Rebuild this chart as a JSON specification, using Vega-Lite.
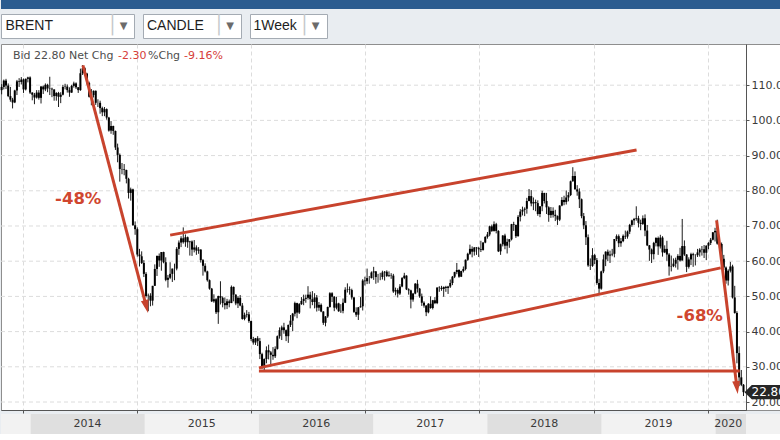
{
"$schema": "https://vega.github.io/schema/vega-lite/v6.json",
"padding": 0,
"background": "#e9edf1",
"spacing": 4,
"config": {"view": {"stroke": null}, "font": "DejaVu Sans", "text": {"font": "DejaVu Sans"}},
"datasets": {
"w": [
{"d":"2013-09-30","o":108.6,"h":110.3,"l":107.4,"c":109.5},
{"d":"2013-10-07","o":109.5,"h":111.6,"l":108.8,"c":111.3},
{"d":"2013-10-14","o":111.3,"h":111.8,"l":108.9,"c":109.9},
{"d":"2013-10-21","o":109.9,"h":110.5,"l":106.6,"c":106.9},
{"d":"2013-10-28","o":106.9,"h":109.5,"l":105.3,"c":105.9},
{"d":"2013-11-04","o":105.9,"h":106.4,"l":103.4,"c":105.1},
{"d":"2013-11-11","o":105.1,"h":108.7,"l":104.9,"c":108.5},
{"d":"2013-11-18","o":108.5,"h":111.5,"l":107.2,"c":111.1},
{"d":"2013-11-25","o":111.1,"h":112.0,"l":109.5,"c":110.9},
{"d":"2013-12-02","o":110.9,"h":112.3,"l":110.2,"c":111.6},
{"d":"2013-12-09","o":111.6,"h":111.9,"l":107.8,"c":108.8},
{"d":"2013-12-16","o":108.8,"h":111.9,"l":108.5,"c":111.8},
{"d":"2013-12-23","o":111.8,"h":112.4,"l":110.8,"c":112.2},
{"d":"2013-12-30","o":112.2,"h":112.5,"l":107.5,"c":107.9},
{"d":"2014-01-06","o":107.9,"h":108.0,"l":105.7,"c":107.3},
{"d":"2014-01-13","o":107.3,"h":107.8,"l":104.6,"c":106.5},
{"d":"2014-01-20","o":106.5,"h":108.6,"l":106.2,"c":107.9},
{"d":"2014-01-27","o":107.9,"h":108.6,"l":105.9,"c":106.4},
{"d":"2014-02-03","o":106.4,"h":109.8,"l":104.8,"c":109.6},
{"d":"2014-02-10","o":109.6,"h":109.9,"l":107.5,"c":108.8},
{"d":"2014-02-17","o":108.8,"h":110.5,"l":108.3,"c":110.1},
{"d":"2014-02-24","o":110.1,"h":110.4,"l":108.0,"c":109.1},
{"d":"2014-03-03","o":109.1,"h":112.4,"l":107.2,"c":109.0},
{"d":"2014-03-10","o":109.0,"h":109.3,"l":106.6,"c":108.8},
{"d":"2014-03-17","o":108.8,"h":108.8,"l":105.6,"c":106.9},
{"d":"2014-03-24","o":106.9,"h":108.0,"l":105.6,"c":107.8},
{"d":"2014-03-31","o":107.8,"h":108.1,"l":103.8,"c":106.7},
{"d":"2014-04-07","o":106.7,"h":108.0,"l":104.9,"c":107.3},
{"d":"2014-04-14","o":107.3,"h":110.1,"l":107.1,"c":109.5},
{"d":"2014-04-21","o":109.5,"h":110.4,"l":108.8,"c":109.6},
{"d":"2014-04-28","o":109.6,"h":110.2,"l":107.9,"c":108.6},
{"d":"2014-05-05","o":108.6,"h":109.4,"l":106.7,"c":107.9},
{"d":"2014-05-12","o":107.9,"h":110.1,"l":107.8,"c":109.8},
{"d":"2014-05-19","o":109.8,"h":111.0,"l":109.3,"c":110.5},
{"d":"2014-05-26","o":110.5,"h":110.8,"l":108.9,"c":109.4},
{"d":"2014-06-02","o":109.4,"h":109.5,"l":107.8,"c":108.6},
{"d":"2014-06-09","o":108.6,"h":114.7,"l":108.4,"c":113.4},
{"d":"2014-06-16","o":113.4,"h":115.7,"l":112.9,"c":114.8},
{"d":"2014-06-23","o":114.8,"h":115.1,"l":112.6,"c":113.3},
{"d":"2014-06-30","o":113.3,"h":113.5,"l":110.2,"c":110.6},
{"d":"2014-07-07","o":110.6,"h":111.0,"l":106.5,"c":106.7},
{"d":"2014-07-14","o":106.7,"h":108.9,"l":104.3,"c":107.2},
{"d":"2014-07-21","o":107.2,"h":108.5,"l":106.5,"c":108.4},
{"d":"2014-07-28","o":108.4,"h":108.5,"l":104.4,"c":105.0},
{"d":"2014-08-04","o":105.0,"h":106.0,"l":103.8,"c":105.0},
{"d":"2014-08-11","o":105.0,"h":105.6,"l":101.9,"c":103.5},
{"d":"2014-08-18","o":103.5,"h":103.9,"l":101.2,"c":102.3},
{"d":"2014-08-25","o":102.3,"h":103.8,"l":101.2,"c":103.2},
{"d":"2014-09-01","o":103.2,"h":103.4,"l":100.2,"c":100.8},
{"d":"2014-09-08","o":100.8,"h":101.0,"l":96.8,"c":97.1},
{"d":"2014-09-15","o":97.1,"h":99.8,"l":96.2,"c":98.4},
{"d":"2014-09-22","o":98.4,"h":98.5,"l":95.9,"c":97.0},
{"d":"2014-09-29","o":97.0,"h":97.1,"l":91.6,"c":92.3},
{"d":"2014-10-06","o":92.3,"h":93.4,"l":88.1,"c":90.2},
{"d":"2014-10-13","o":90.2,"h":90.6,"l":82.6,"c":86.2},
{"d":"2014-10-20","o":86.2,"h":87.9,"l":84.7,"c":86.1},
{"d":"2014-10-27","o":86.1,"h":87.6,"l":84.4,"c":85.9},
{"d":"2014-11-03","o":85.9,"h":86.0,"l":82.1,"c":83.4},
{"d":"2014-11-10","o":83.4,"h":83.7,"l":77.8,"c":79.4},
{"d":"2014-11-17","o":79.4,"h":80.9,"l":77.2,"c":80.4},
{"d":"2014-11-24","o":80.4,"h":80.6,"l":70.1,"c":70.2},
{"d":"2014-12-01","o":70.2,"h":71.3,"l":67.5,"c":69.1},
{"d":"2014-12-08","o":69.1,"h":69.6,"l":61.3,"c":61.9},
{"d":"2014-12-15","o":61.9,"h":63.5,"l":58.5,"c":61.4},
{"d":"2014-12-22","o":61.4,"h":62.8,"l":59.2,"c":59.5},
{"d":"2014-12-29","o":59.5,"h":60.3,"l":55.5,"c":56.4},
{"d":"2015-01-05","o":56.4,"h":56.9,"l":49.7,"c":50.1},
{"d":"2015-01-12","o":50.1,"h":50.8,"l":45.8,"c":50.2},
{"d":"2015-01-19","o":50.2,"h":50.9,"l":47.2,"c":48.8},
{"d":"2015-01-26","o":48.8,"h":53.0,"l":47.4,"c":53.0},
{"d":"2015-02-02","o":53.0,"h":59.1,"l":53.0,"c":57.8},
{"d":"2015-02-09","o":57.8,"h":61.6,"l":55.8,"c":61.5},
{"d":"2015-02-16","o":61.5,"h":62.2,"l":58.4,"c":60.2},
{"d":"2015-02-23","o":60.2,"h":62.6,"l":57.3,"c":62.6},
{"d":"2015-03-02","o":62.6,"h":62.7,"l":59.4,"c":59.7},
{"d":"2015-03-09","o":59.7,"h":61.1,"l":54.3,"c":54.7},
{"d":"2015-03-16","o":54.7,"h":56.1,"l":52.5,"c":55.3},
{"d":"2015-03-23","o":55.3,"h":59.7,"l":54.9,"c":56.4},
{"d":"2015-03-30","o":56.4,"h":57.9,"l":54.1,"c":57.9},
{"d":"2015-04-06","o":57.9,"h":59.3,"l":54.6,"c":57.9},
{"d":"2015-04-13","o":57.9,"h":64.0,"l":57.4,"c":63.5},
{"d":"2015-04-20","o":63.5,"h":65.9,"l":61.8,"c":65.3},
{"d":"2015-04-27","o":65.3,"h":67.1,"l":64.0,"c":66.5},
{"d":"2015-05-04","o":66.5,"h":69.6,"l":65.0,"c":65.4},
{"d":"2015-05-11","o":65.4,"h":67.6,"l":64.1,"c":66.8},
{"d":"2015-05-18","o":66.8,"h":67.0,"l":63.8,"c":65.4},
{"d":"2015-05-25","o":65.4,"h":65.8,"l":61.6,"c":65.6},
{"d":"2015-06-01","o":65.6,"h":65.9,"l":61.5,"c":63.3},
{"d":"2015-06-08","o":63.3,"h":66.0,"l":62.5,"c":63.9},
{"d":"2015-06-15","o":63.9,"h":64.5,"l":61.8,"c":63.0},
{"d":"2015-06-22","o":63.0,"h":64.0,"l":62.1,"c":63.3},
{"d":"2015-06-29","o":63.3,"h":63.4,"l":59.6,"c":60.3},
{"d":"2015-07-06","o":60.3,"h":60.6,"l":55.9,"c":58.7},
{"d":"2015-07-13","o":58.7,"h":59.4,"l":56.8,"c":57.1},
{"d":"2015-07-20","o":57.1,"h":57.3,"l":54.2,"c":54.6},
{"d":"2015-07-27","o":54.6,"h":54.8,"l":51.9,"c":52.2},
{"d":"2015-08-03","o":52.2,"h":52.4,"l":48.4,"c":48.6},
{"d":"2015-08-10","o":48.6,"h":50.6,"l":48.2,"c":49.2},
{"d":"2015-08-17","o":49.2,"h":49.5,"l":45.0,"c":45.5},
{"d":"2015-08-24","o":45.5,"h":50.2,"l":42.2,"c":50.1},
{"d":"2015-08-31","o":50.1,"h":54.3,"l":47.7,"c":49.6},
{"d":"2015-09-07","o":49.6,"h":50.0,"l":46.9,"c":48.1},
{"d":"2015-09-14","o":48.1,"h":49.7,"l":46.3,"c":47.5},
{"d":"2015-09-21","o":47.5,"h":49.3,"l":46.4,"c":48.6},
{"d":"2015-09-28","o":48.6,"h":49.1,"l":46.9,"c":48.1},
{"d":"2015-10-05","o":48.1,"h":53.1,"l":48.1,"c":52.7},
{"d":"2015-10-12","o":52.7,"h":52.8,"l":48.6,"c":50.5},
{"d":"2015-10-19","o":50.5,"h":50.6,"l":47.5,"c":48.0},
{"d":"2015-10-26","o":48.0,"h":50.1,"l":46.7,"c":49.6},
{"d":"2015-11-02","o":49.6,"h":50.4,"l":47.2,"c":47.4},
{"d":"2015-11-09","o":47.4,"h":48.1,"l":43.4,"c":43.6},
{"d":"2015-11-16","o":43.6,"h":45.4,"l":43.2,"c":44.7},
{"d":"2015-11-23","o":44.7,"h":46.1,"l":44.0,"c":44.9},
{"d":"2015-11-30","o":44.9,"h":45.6,"l":42.5,"c":43.0},
{"d":"2015-12-07","o":43.0,"h":43.1,"l":37.3,"c":37.9},
{"d":"2015-12-14","o":37.9,"h":38.5,"l":36.3,"c":36.9},
{"d":"2015-12-21","o":36.9,"h":38.2,"l":36.2,"c":38.1},
{"d":"2015-12-28","o":38.1,"h":38.7,"l":35.9,"c":37.3},
{"d":"2016-01-04","o":37.3,"h":38.2,"l":32.2,"c":33.6},
{"d":"2016-01-11","o":33.6,"h":34.0,"l":29.4,"c":29.9},
{"d":"2016-01-18","o":29.9,"h":32.4,"l":28.6,"c":32.2},
{"d":"2016-01-25","o":32.2,"h":35.8,"l":31.0,"c":34.7},
{"d":"2016-02-01","o":34.7,"h":36.3,"l":32.1,"c":34.1},
{"d":"2016-02-08","o":34.1,"h":34.5,"l":30.1,"c":33.4},
{"d":"2016-02-15","o":33.4,"h":35.6,"l":32.0,"c":33.0},
{"d":"2016-02-22","o":33.0,"h":35.8,"l":32.5,"c":35.1},
{"d":"2016-02-29","o":35.1,"h":38.9,"l":34.9,"c":38.7},
{"d":"2016-03-07","o":38.7,"h":41.2,"l":38.0,"c":40.4},
{"d":"2016-03-14","o":40.4,"h":41.7,"l":37.6,"c":41.2},
{"d":"2016-03-21","o":41.2,"h":42.5,"l":39.4,"c":40.4},
{"d":"2016-03-28","o":40.4,"h":40.6,"l":37.3,"c":38.7},
{"d":"2016-04-04","o":38.7,"h":42.0,"l":36.8,"c":41.9},
{"d":"2016-04-11","o":41.9,"h":44.7,"l":41.3,"c":43.1},
{"d":"2016-04-18","o":43.1,"h":45.3,"l":40.1,"c":45.1},
{"d":"2016-04-25","o":45.1,"h":48.5,"l":44.3,"c":48.1},
{"d":"2016-05-02","o":48.1,"h":48.2,"l":43.8,"c":45.4},
{"d":"2016-05-09","o":45.4,"h":48.1,"l":45.0,"c":47.8},
{"d":"2016-05-16","o":47.8,"h":49.8,"l":47.6,"c":48.7},
{"d":"2016-05-23","o":48.7,"h":50.5,"l":47.5,"c":49.3},
{"d":"2016-05-30","o":49.3,"h":50.5,"l":48.2,"c":49.6},
{"d":"2016-06-06","o":49.6,"h":52.9,"l":49.1,"c":50.5},
{"d":"2016-06-13","o":50.5,"h":51.3,"l":46.6,"c":49.2},
{"d":"2016-06-20","o":49.2,"h":51.5,"l":47.5,"c":48.4},
{"d":"2016-06-27","o":48.4,"h":50.9,"l":46.6,"c":49.7},
{"d":"2016-07-04","o":49.7,"h":50.4,"l":45.7,"c":46.8},
{"d":"2016-07-11","o":46.8,"h":48.4,"l":45.9,"c":47.6},
{"d":"2016-07-18","o":47.6,"h":48.0,"l":45.5,"c":45.7},
{"d":"2016-07-25","o":45.7,"h":45.8,"l":41.9,"c":42.5},
{"d":"2016-08-01","o":42.5,"h":44.4,"l":41.5,"c":44.3},
{"d":"2016-08-08","o":44.3,"h":47.1,"l":43.9,"c":47.0},
{"d":"2016-08-15","o":47.0,"h":51.2,"l":46.8,"c":50.9},
{"d":"2016-08-22","o":50.9,"h":51.2,"l":48.4,"c":49.9},
{"d":"2016-08-29","o":49.9,"h":50.1,"l":45.8,"c":46.8},
{"d":"2016-09-05","o":46.8,"h":49.9,"l":46.3,"c":48.0},
{"d":"2016-09-12","o":48.0,"h":48.2,"l":45.6,"c":45.8},
{"d":"2016-09-19","o":45.8,"h":47.8,"l":45.3,"c":45.9},
{"d":"2016-09-26","o":45.9,"h":49.4,"l":45.2,"c":48.2},
{"d":"2016-10-03","o":48.2,"h":52.6,"l":48.1,"c":51.9},
{"d":"2016-10-10","o":51.9,"h":53.7,"l":51.1,"c":52.0},
{"d":"2016-10-17","o":52.0,"h":52.8,"l":50.5,"c":51.8},
{"d":"2016-10-24","o":51.8,"h":52.2,"l":49.1,"c":49.7},
{"d":"2016-10-31","o":49.7,"h":49.8,"l":45.3,"c":45.6},
{"d":"2016-11-07","o":45.6,"h":46.9,"l":44.2,"c":44.8},
{"d":"2016-11-14","o":44.8,"h":47.0,"l":43.3,"c":46.9},
{"d":"2016-11-21","o":46.9,"h":49.8,"l":46.8,"c":47.2},
{"d":"2016-11-28","o":47.2,"h":54.9,"l":46.0,"c":54.5},
{"d":"2016-12-05","o":54.5,"h":55.6,"l":53.1,"c":54.3},
{"d":"2016-12-12","o":54.3,"h":57.9,"l":53.5,"c":55.2},
{"d":"2016-12-19","o":55.2,"h":55.8,"l":53.6,"c":55.2},
{"d":"2016-12-26","o":55.2,"h":57.1,"l":55.1,"c":56.8},
{"d":"2017-01-02","o":56.8,"h":58.4,"l":54.7,"c":57.1},
{"d":"2017-01-09","o":57.1,"h":57.2,"l":53.6,"c":55.5},
{"d":"2017-01-16","o":55.5,"h":56.4,"l":53.9,"c":55.5},
{"d":"2017-01-23","o":55.5,"h":56.7,"l":54.6,"c":55.5},
{"d":"2017-01-30","o":55.5,"h":57.3,"l":54.8,"c":56.8},
{"d":"2017-02-06","o":56.8,"h":57.2,"l":54.5,"c":57.0},
{"d":"2017-02-13","o":57.0,"h":57.4,"l":55.5,"c":55.8},
{"d":"2017-02-20","o":55.8,"h":57.1,"l":55.5,"c":56.0},
{"d":"2017-02-27","o":56.0,"h":56.6,"l":55.0,"c":55.9},
{"d":"2017-03-06","o":55.9,"h":56.4,"l":51.0,"c":51.4},
{"d":"2017-03-13","o":51.4,"h":52.5,"l":50.3,"c":51.8},
{"d":"2017-03-20","o":51.8,"h":52.3,"l":49.7,"c":50.8},
{"d":"2017-03-27","o":50.8,"h":53.5,"l":50.4,"c":52.8},
{"d":"2017-04-03","o":52.8,"h":55.5,"l":52.6,"c":55.2},
{"d":"2017-04-10","o":55.2,"h":56.7,"l":54.9,"c":55.9},
{"d":"2017-04-17","o":55.9,"h":56.0,"l":51.8,"c":52.0},
{"d":"2017-04-24","o":52.0,"h":52.3,"l":50.5,"c":51.7},
{"d":"2017-05-01","o":51.7,"h":51.9,"l":46.6,"c":49.1},
{"d":"2017-05-08","o":49.1,"h":51.0,"l":48.5,"c":50.8},
{"d":"2017-05-15","o":50.8,"h":53.8,"l":50.6,"c":53.6},
{"d":"2017-05-22","o":53.6,"h":54.7,"l":51.1,"c":52.2},
{"d":"2017-05-29","o":52.2,"h":52.4,"l":49.6,"c":50.0},
{"d":"2017-06-05","o":50.0,"h":50.8,"l":47.3,"c":48.2},
{"d":"2017-06-12","o":48.2,"h":48.6,"l":46.8,"c":47.4},
{"d":"2017-06-19","o":47.4,"h":47.5,"l":44.4,"c":45.5},
{"d":"2017-06-26","o":45.5,"h":48.1,"l":45.2,"c":47.9},
{"d":"2017-07-03","o":47.9,"h":50.0,"l":46.5,"c":46.7},
{"d":"2017-07-10","o":46.7,"h":49.0,"l":46.3,"c":48.9},
{"d":"2017-07-17","o":48.9,"h":49.8,"l":47.8,"c":48.1},
{"d":"2017-07-24","o":48.1,"h":52.6,"l":47.8,"c":52.5},
{"d":"2017-07-31","o":52.5,"h":52.9,"l":51.3,"c":52.4},
{"d":"2017-08-07","o":52.4,"h":53.0,"l":51.6,"c":52.1},
{"d":"2017-08-14","o":52.1,"h":52.8,"l":49.9,"c":52.7},
{"d":"2017-08-21","o":52.7,"h":53.0,"l":51.3,"c":52.4},
{"d":"2017-08-28","o":52.4,"h":53.0,"l":50.7,"c":52.8},
{"d":"2017-09-04","o":52.8,"h":54.8,"l":52.4,"c":53.8},
{"d":"2017-09-11","o":53.8,"h":55.8,"l":53.2,"c":55.6},
{"d":"2017-09-18","o":55.6,"h":57.0,"l":55.2,"c":56.9},
{"d":"2017-09-25","o":56.9,"h":59.5,"l":56.3,"c":57.5},
{"d":"2017-10-02","o":57.5,"h":57.7,"l":55.3,"c":55.6},
{"d":"2017-10-09","o":55.6,"h":57.3,"l":55.5,"c":57.2},
{"d":"2017-10-16","o":57.2,"h":58.5,"l":56.8,"c":57.8},
{"d":"2017-10-23","o":57.8,"h":60.5,"l":57.4,"c":60.4},
{"d":"2017-10-30","o":60.4,"h":62.4,"l":60.1,"c":62.1},
{"d":"2017-11-06","o":62.1,"h":64.7,"l":61.8,"c":63.5},
{"d":"2017-11-13","o":63.5,"h":64.2,"l":61.1,"c":62.7},
{"d":"2017-11-20","o":62.7,"h":64.0,"l":61.6,"c":63.9},
{"d":"2017-11-27","o":63.9,"h":64.0,"l":61.8,"c":63.7},
{"d":"2017-12-04","o":63.7,"h":64.1,"l":61.2,"c":63.4},
{"d":"2017-12-11","o":63.4,"h":65.8,"l":62.6,"c":63.2},
{"d":"2017-12-18","o":63.2,"h":65.4,"l":63.0,"c":65.3},
{"d":"2017-12-25","o":65.3,"h":67.1,"l":65.1,"c":66.9},
{"d":"2018-01-01","o":66.9,"h":68.3,"l":66.4,"c":67.6},
{"d":"2018-01-08","o":67.6,"h":70.1,"l":67.1,"c":69.9},
{"d":"2018-01-15","o":69.9,"h":70.4,"l":68.3,"c":68.6},
{"d":"2018-01-22","o":68.6,"h":71.3,"l":68.4,"c":70.5},
{"d":"2018-01-29","o":70.5,"h":70.9,"l":67.9,"c":68.6},
{"d":"2018-02-05","o":68.6,"h":68.8,"l":62.6,"c":62.8},
{"d":"2018-02-12","o":62.8,"h":65.0,"l":61.8,"c":64.8},
{"d":"2018-02-19","o":64.8,"h":67.4,"l":64.2,"c":67.3},
{"d":"2018-02-26","o":67.3,"h":67.8,"l":63.4,"c":64.4},
{"d":"2018-03-05","o":64.4,"h":66.4,"l":62.2,"c":65.5},
{"d":"2018-03-12","o":65.5,"h":66.3,"l":63.8,"c":66.2},
{"d":"2018-03-19","o":66.2,"h":70.6,"l":65.9,"c":70.5},
{"d":"2018-03-26","o":70.5,"h":71.2,"l":68.6,"c":70.3},
{"d":"2018-04-02","o":70.3,"h":70.4,"l":66.6,"c":67.1},
{"d":"2018-04-09","o":67.1,"h":73.1,"l":67.0,"c":72.6},
{"d":"2018-04-16","o":72.6,"h":74.8,"l":71.3,"c":74.1},
{"d":"2018-04-23","o":74.1,"h":75.5,"l":73.0,"c":74.6},
{"d":"2018-04-30","o":74.6,"h":75.3,"l":72.8,"c":74.9},
{"d":"2018-05-07","o":74.9,"h":78.0,"l":73.5,"c":77.1},
{"d":"2018-05-14","o":77.1,"h":80.5,"l":77.0,"c":78.5},
{"d":"2018-05-21","o":78.5,"h":80.2,"l":75.6,"c":76.4},
{"d":"2018-05-28","o":76.4,"h":78.1,"l":74.5,"c":76.8},
{"d":"2018-06-04","o":76.8,"h":77.5,"l":74.2,"c":76.5},
{"d":"2018-06-11","o":76.5,"h":77.3,"l":72.9,"c":73.4},
{"d":"2018-06-18","o":73.4,"h":75.6,"l":72.5,"c":75.6},
{"d":"2018-06-25","o":75.6,"h":80.0,"l":74.2,"c":79.4},
{"d":"2018-07-02","o":79.4,"h":79.4,"l":76.4,"c":77.1},
{"d":"2018-07-09","o":77.1,"h":79.4,"l":73.4,"c":75.3},
{"d":"2018-07-16","o":75.3,"h":75.6,"l":71.2,"c":73.1},
{"d":"2018-07-23","o":73.1,"h":75.4,"l":72.3,"c":74.3},
{"d":"2018-07-30","o":74.3,"h":75.3,"l":72.4,"c":73.2},
{"d":"2018-08-06","o":73.2,"h":74.6,"l":71.4,"c":72.8},
{"d":"2018-08-13","o":72.8,"h":73.0,"l":70.3,"c":71.8},
{"d":"2018-08-20","o":71.8,"h":75.9,"l":71.4,"c":75.8},
{"d":"2018-08-27","o":75.8,"h":78.2,"l":75.6,"c":77.4},
{"d":"2018-09-03","o":77.4,"h":78.6,"l":75.9,"c":76.8},
{"d":"2018-09-10","o":76.8,"h":80.1,"l":76.1,"c":78.1},
{"d":"2018-09-17","o":78.1,"h":79.6,"l":77.0,"c":78.8},
{"d":"2018-09-24","o":78.8,"h":82.9,"l":78.5,"c":82.7},
{"d":"2018-10-01","o":82.7,"h":86.7,"l":82.6,"c":84.2},
{"d":"2018-10-08","o":84.2,"h":85.5,"l":80.4,"c":80.4},
{"d":"2018-10-15","o":80.4,"h":81.6,"l":78.6,"c":79.8},
{"d":"2018-10-22","o":79.8,"h":80.7,"l":75.1,"c":77.6},
{"d":"2018-10-29","o":77.6,"h":77.8,"l":72.2,"c":72.8},
{"d":"2018-11-05","o":72.8,"h":73.7,"l":69.1,"c":70.2},
{"d":"2018-11-12","o":70.2,"h":71.4,"l":64.6,"c":66.8},
{"d":"2018-11-19","o":66.8,"h":67.6,"l":58.4,"c":58.8},
{"d":"2018-11-26","o":58.8,"h":60.8,"l":57.5,"c":58.7},
{"d":"2018-12-03","o":58.7,"h":63.7,"l":58.4,"c":61.7},
{"d":"2018-12-10","o":61.7,"h":62.1,"l":59.2,"c":60.3},
{"d":"2018-12-17","o":60.3,"h":60.9,"l":53.3,"c":53.8},
{"d":"2018-12-24","o":53.8,"h":55.0,"l":50.4,"c":52.2},
{"d":"2018-12-31","o":52.2,"h":57.3,"l":51.9,"c":57.1},
{"d":"2019-01-07","o":57.1,"h":61.9,"l":56.6,"c":60.5},
{"d":"2019-01-14","o":60.5,"h":62.8,"l":58.6,"c":62.7},
{"d":"2019-01-21","o":62.7,"h":63.3,"l":60.0,"c":61.6},
{"d":"2019-01-28","o":61.6,"h":63.0,"l":59.5,"c":61.9},
{"d":"2019-02-04","o":61.9,"h":63.5,"l":61.4,"c":62.1},
{"d":"2019-02-11","o":62.1,"h":66.3,"l":61.1,"c":66.3},
{"d":"2019-02-18","o":66.3,"h":67.6,"l":65.7,"c":67.1},
{"d":"2019-02-25","o":67.1,"h":67.6,"l":64.0,"c":65.1},
{"d":"2019-03-04","o":65.1,"h":66.6,"l":64.1,"c":65.7},
{"d":"2019-03-11","o":65.7,"h":67.6,"l":65.4,"c":67.2},
{"d":"2019-03-18","o":67.2,"h":68.7,"l":66.3,"c":67.0},
{"d":"2019-03-25","o":67.0,"h":68.7,"l":66.4,"c":68.4},
{"d":"2019-04-01","o":68.4,"h":70.6,"l":67.7,"c":70.3},
{"d":"2019-04-08","o":70.3,"h":71.8,"l":69.8,"c":71.6},
{"d":"2019-04-15","o":71.6,"h":72.3,"l":70.3,"c":72.0},
{"d":"2019-04-22","o":72.0,"h":75.6,"l":71.5,"c":72.2},
{"d":"2019-04-29","o":72.2,"h":72.9,"l":69.6,"c":70.9},
{"d":"2019-05-06","o":70.9,"h":71.8,"l":68.8,"c":70.6},
{"d":"2019-05-13","o":70.6,"h":73.0,"l":70.3,"c":72.2},
{"d":"2019-05-20","o":72.2,"h":73.3,"l":67.1,"c":68.7},
{"d":"2019-05-27","o":68.7,"h":70.3,"l":64.3,"c":64.5},
{"d":"2019-06-03","o":64.5,"h":64.6,"l":60.1,"c":63.3},
{"d":"2019-06-10","o":63.3,"h":63.6,"l":59.5,"c":62.0},
{"d":"2019-06-17","o":62.0,"h":65.5,"l":60.5,"c":65.2},
{"d":"2019-06-24","o":65.2,"h":66.8,"l":64.2,"c":66.6},
{"d":"2019-07-01","o":66.6,"h":67.0,"l":61.8,"c":64.2},
{"d":"2019-07-08","o":64.2,"h":67.5,"l":63.6,"c":66.7},
{"d":"2019-07-15","o":66.7,"h":67.1,"l":61.3,"c":62.5},
{"d":"2019-07-22","o":62.5,"h":64.5,"l":62.3,"c":63.5},
{"d":"2019-07-29","o":63.5,"h":65.8,"l":60.1,"c":61.9},
{"d":"2019-08-05","o":61.9,"h":62.3,"l":55.9,"c":58.5},
{"d":"2019-08-12","o":58.5,"h":61.6,"l":57.1,"c":58.6},
{"d":"2019-08-19","o":58.6,"h":60.8,"l":58.3,"c":59.3},
{"d":"2019-08-26","o":59.3,"h":61.0,"l":58.2,"c":60.4},
{"d":"2019-09-02","o":60.4,"h":62.0,"l":57.6,"c":61.5},
{"d":"2019-09-09","o":61.5,"h":63.8,"l":59.9,"c":60.2},
{"d":"2019-09-16","o":60.2,"h":72.0,"l":60.2,"c":64.3},
{"d":"2019-09-23","o":64.3,"h":65.9,"l":61.5,"c":61.9},
{"d":"2019-09-30","o":61.9,"h":62.0,"l":56.9,"c":58.4},
{"d":"2019-10-07","o":58.4,"h":61.1,"l":57.9,"c":60.5},
{"d":"2019-10-14","o":60.5,"h":62.4,"l":58.9,"c":62.0},
{"d":"2019-10-21","o":62.0,"h":62.4,"l":58.4,"c":61.7},
{"d":"2019-10-28","o":61.7,"h":62.0,"l":58.8,"c":61.7},
{"d":"2019-11-04","o":61.7,"h":63.5,"l":61.2,"c":62.5},
{"d":"2019-11-11","o":62.5,"h":63.7,"l":61.3,"c":63.3},
{"d":"2019-11-18","o":63.3,"h":64.3,"l":61.6,"c":63.4},
{"d":"2019-11-25","o":63.4,"h":64.6,"l":60.9,"c":62.4},
{"d":"2019-12-02","o":62.4,"h":64.5,"l":60.3,"c":64.4},
{"d":"2019-12-09","o":64.4,"h":65.4,"l":63.4,"c":65.2},
{"d":"2019-12-16","o":65.2,"h":66.6,"l":64.6,"c":66.1},
{"d":"2019-12-23","o":66.1,"h":68.3,"l":65.9,"c":68.2},
{"d":"2019-12-30","o":68.2,"h":69.5,"l":65.6,"c":68.6},
{"d":"2020-01-06","o":68.6,"h":71.8,"l":64.7,"c":65.0},
{"d":"2020-01-13","o":65.0,"h":65.7,"l":63.8,"c":64.9},
{"d":"2020-01-20","o":64.9,"h":65.3,"l":60.1,"c":60.7},
{"d":"2020-01-27","o":60.7,"h":61.8,"l":57.5,"c":58.2},
{"d":"2020-02-03","o":58.2,"h":58.5,"l":53.6,"c":54.5},
{"d":"2020-02-10","o":54.5,"h":57.7,"l":53.1,"c":57.3},
{"d":"2020-02-17","o":57.3,"h":59.8,"l":56.8,"c":58.5},
{"d":"2020-02-24","o":58.5,"h":59.0,"l":49.4,"c":49.7},
{"d":"2020-03-02","o":49.7,"h":53.0,"l":45.1,"c":45.3},
{"d":"2020-03-09","o":45.3,"h":45.8,"l":31.0,"c":33.9},
{"d":"2020-03-16","o":33.9,"h":35.8,"l":24.5,"c":27.0},
{"d":"2020-03-23","o":27.0,"h":29.1,"l":24.5,"c":24.9},
{"d":"2020-03-30","o":24.9,"h":25.1,"l":21.7,"c":22.8}
]
},
"vconcat": [
{
"width": 780, "height": 9,
"view": {"fill": "#2b5c8f", "stroke": null},
"data": {"values": [{}]},
"mark": {"type": "text", "text": " ", "fontSize": 1}
},
{
"spacing": 7,
"hconcat": [
{"width": 133, "height": 24, "view": {"fill": "#ffffff", "stroke": "#a4abb3"},
 "data": {"values": [{"t": "BRENT"}]},
 "layer": [
  {"mark": {"type": "text", "align": "left", "baseline": "middle", "dx": -62, "fontSize": 14, "font": "Liberation Sans", "color": "#1e1e1e"}, "encoding": {"text": {"field": "t"}}},
  {"mark": {"type": "text", "text": "│", "align": "center", "baseline": "middle", "dx": 45, "fontSize": 18, "color": "#c4c8cc"}},
  {"mark": {"type": "text", "text": "▼", "align": "center", "baseline": "middle", "dx": 56, "fontSize": 10, "color": "#6b6b6b"}}
 ]},
{"width": 98, "height": 24, "view": {"fill": "#ffffff", "stroke": "#a4abb3"},
 "data": {"values": [{"t": "CANDLE"}]},
 "layer": [
  {"mark": {"type": "text", "align": "left", "baseline": "middle", "dx": -45, "fontSize": 14, "font": "Liberation Sans", "color": "#1e1e1e"}, "encoding": {"text": {"field": "t"}}},
  {"mark": {"type": "text", "text": "│", "align": "center", "baseline": "middle", "dx": 27, "fontSize": 18, "color": "#c4c8cc"}},
  {"mark": {"type": "text", "text": "▼", "align": "center", "baseline": "middle", "dx": 38, "fontSize": 10, "color": "#6b6b6b"}}
 ]},
{"width": 77, "height": 24, "view": {"fill": "#ffffff", "stroke": "#a4abb3"},
 "data": {"values": [{"t": "1Week"}]},
 "layer": [
  {"mark": {"type": "text", "align": "left", "baseline": "middle", "dx": -35, "fontSize": 14, "font": "Liberation Sans", "color": "#1e1e1e"}, "encoding": {"text": {"field": "t"}}},
  {"mark": {"type": "text", "text": "│", "align": "center", "baseline": "middle", "dx": 16, "fontSize": 18, "color": "#c4c8cc"}},
  {"mark": {"type": "text", "text": "▼", "align": "center", "baseline": "middle", "dx": 27, "fontSize": 10, "color": "#6b6b6b"}}
 ]}
]
},
{
"spacing": 0,
"vconcat": [
{
"width": 780, "height": 366,
"view": {"fill": "#ffffff", "stroke": "#8e8e8e"},
"layer": [
 {
  "data": {"values": [{"g":20},{"g":30},{"g":40},{"g":50},{"g":60},{"g":70},{"g":80},{"g":90},{"g":100},{"g":110}]},
  "mark": {"type": "rule", "color": "#dcdcdc", "strokeDash": [4, 3], "strokeWidth": 1},
  "encoding": {
   "x": {"datum": {"year": 2013, "month": 9, "date": 28, "utc": true}, "type": "temporal", "scale": {"type": "utc", "domain": [{"year": 2013, "month": 9, "date": 28, "utc": true}, {"year": 2020, "month": 4, "date": 7, "utc": true}], "range": [0, 745]}},
   "x2": {"datum": {"year": 2020, "month": 4, "date": 7, "utc": true}},
   "y": {"field": "g", "type": "quantitative", "scale": {"domain": [17.73, 121.7], "nice": false, "zero": false}}
  }
 },
 {
  "data": {"name": "w"},
  "mark": {"type": "rule", "color": "#1c1c1c", "strokeWidth": 1},
  "encoding": {
   "x": {"field": "d", "type": "temporal", "scale": {"type": "utc", "domain": [{"year": 2013, "month": 9, "date": 28, "utc": true}, {"year": 2020, "month": 4, "date": 7, "utc": true}], "range": [0, 745]},
         "axis": {"title": null, "labels": false, "ticks": true, "tickSize": 3, "tickOffset": -8, "tickColor": "#555555", "domainColor": "#555555", "grid": true, "gridColor": "#dcdcdc", "gridDash": [4, 3],
                  "values": [{"year": 2014, "month": 1, "date": 1, "utc": true}, {"year": 2015, "month": 1, "date": 1, "utc": true}, {"year": 2016, "month": 1, "date": 1, "utc": true}, {"year": 2017, "month": 1, "date": 1, "utc": true}, {"year": 2018, "month": 1, "date": 1, "utc": true}, {"year": 2019, "month": 1, "date": 1, "utc": true}, {"year": 2020, "month": 1, "date": 1, "utc": true}]}},
   "y": {"field": "l", "type": "quantitative", "scale": {"domain": [17.73, 121.7], "nice": false, "zero": false},
         "axis": {"orient": "right", "offset": -35, "title": null, "grid": false, "values": [20, 30, 40, 50, 60, 70, 80, 90, 100, 110], "format": ".2f", "tickSize": 3, "tickColor": "#555555", "domainColor": "#555555", "labelFont": "DejaVu Sans", "labelFontSize": 11, "labelColor": "#3a3a3a", "labelPadding": 2}},
   "y2": {"field": "h"}
  }
 },
 {
  "data": {"name": "w"},
  "mark": {"type": "rule", "color": "#000000", "strokeWidth": 2},
  "encoding": {
   "x": {"field": "d", "type": "temporal", "scale": {"type": "utc", "domain": [{"year": 2013, "month": 9, "date": 28, "utc": true}, {"year": 2020, "month": 4, "date": 7, "utc": true}], "range": [0, 745]}},
   "y": {"field": "o", "type": "quantitative", "scale": {"domain": [17.73, 121.7], "nice": false, "zero": false}},
   "y2": {"field": "c"}
  }
 },
 {
  "data": {"values": [
   {"d1": "2014-06-17", "v1": 115.6, "d2": "2015-01-06", "v2": 47.1},
   {"d1": "2015-03-23", "v1": 67.4, "d2": "2019-04-23", "v2": 91.6},
   {"d1": "2016-01-01", "v1": 29.7, "d2": "2020-01-17", "v2": 58.1},
   {"d1": "2016-01-01", "v1": 28.8, "d2": "2020-03-18", "v2": 28.8},
   {"d1": "2020-01-04", "v1": 71.6, "d2": "2020-03-09", "v2": 24.1}
  ]},
  "mark": {"type": "rule", "color": "#c8432d", "strokeWidth": 3},
  "encoding": {
   "x": {"field": "d1", "type": "temporal", "scale": {"type": "utc", "domain": [{"year": 2013, "month": 9, "date": 28, "utc": true}, {"year": 2020, "month": 4, "date": 7, "utc": true}], "range": [0, 745]}},
   "x2": {"field": "d2"},
   "y": {"field": "v1", "type": "quantitative", "scale": {"domain": [17.73, 121.7], "nice": false, "zero": false}},
   "y2": {"field": "v2"}
  }
 },
 {
  "data": {"values": [{"d": "2015-01-06", "v": 47.1}]},
  "mark": {"type": "point", "shape": "M0,1L-0.6,-1L0.6,-1Z", "size": 169, "filled": true, "opacity": 1, "color": "#c8432d", "angle": 345.3},
  "encoding": {
   "x": {"field": "d", "type": "temporal", "scale": {"type": "utc", "domain": [{"year": 2013, "month": 9, "date": 28, "utc": true}, {"year": 2020, "month": 4, "date": 7, "utc": true}], "range": [0, 745]}},
   "y": {"field": "v", "type": "quantitative", "scale": {"domain": [17.73, 121.7], "nice": false, "zero": false}}
  }
 },
 {
  "data": {"values": [{"d": "2020-03-09", "v": 24.1}]},
  "mark": {"type": "point", "shape": "M0,1L-0.6,-1L0.6,-1Z", "size": 169, "filled": true, "opacity": 1, "color": "#c8432d", "angle": 352.8},
  "encoding": {
   "x": {"field": "d", "type": "temporal", "scale": {"type": "utc", "domain": [{"year": 2013, "month": 9, "date": 28, "utc": true}, {"year": 2020, "month": 4, "date": 7, "utc": true}], "range": [0, 745]}},
   "y": {"field": "v", "type": "quantitative", "scale": {"domain": [17.73, 121.7], "nice": false, "zero": false}}
  }
 },
 {
  "data": {"values": [{"d": "2014-06-02", "v": 77.7, "t": "-48%"}, {"d": "2019-11-11", "v": 44.4, "t": "-68%"}]},
  "mark": {"type": "text", "font": "DejaVu Sans", "fontWeight": "bold", "fontSize": 16.5, "color": "#d0462f", "align": "center", "baseline": "middle"},
  "encoding": {
   "x": {"field": "d", "type": "temporal", "scale": {"type": "utc", "domain": [{"year": 2013, "month": 9, "date": 28, "utc": true}, {"year": 2020, "month": 4, "date": 7, "utc": true}], "range": [0, 745]}},
   "y": {"field": "v", "type": "quantitative", "scale": {"domain": [17.73, 121.7], "nice": false, "zero": false}},
   "text": {"field": "t"}
  }
 },
 {
  "data": {"values": [{"t": "Bid 22.80 Net Chg"}]},
  "mark": {"type": "text", "align": "left", "baseline": "middle", "dx": 12, "dy": 12, "fontSize": 11, "color": "#4d4d4d"},
  "encoding": {
   "x": {"datum": {"year": 2013, "month": 9, "date": 28, "utc": true}, "type": "temporal", "scale": {"type": "utc", "domain": [{"year": 2013, "month": 9, "date": 28, "utc": true}, {"year": 2020, "month": 4, "date": 7, "utc": true}], "range": [0, 745]}},
   "y": {"datum": 121.7, "type": "quantitative", "scale": {"domain": [17.73, 121.7], "nice": false, "zero": false}},
   "text": {"field": "t"}
  }
 },
 {
  "data": {"values": [{"t": "-2.30"}]},
  "mark": {"type": "text", "align": "left", "baseline": "middle", "dx": 117, "dy": 12, "fontSize": 11, "color": "#d6403a"},
  "encoding": {
   "x": {"datum": {"year": 2013, "month": 9, "date": 28, "utc": true}, "type": "temporal", "scale": {"type": "utc", "domain": [{"year": 2013, "month": 9, "date": 28, "utc": true}, {"year": 2020, "month": 4, "date": 7, "utc": true}], "range": [0, 745]}},
   "y": {"datum": 121.7, "type": "quantitative", "scale": {"domain": [17.73, 121.7], "nice": false, "zero": false}},
   "text": {"field": "t"}
  }
 },
 {
  "data": {"values": [{"t": "%Chg"}]},
  "mark": {"type": "text", "align": "left", "baseline": "middle", "dx": 147, "dy": 12, "fontSize": 11, "color": "#4d4d4d"},
  "encoding": {
   "x": {"datum": {"year": 2013, "month": 9, "date": 28, "utc": true}, "type": "temporal", "scale": {"type": "utc", "domain": [{"year": 2013, "month": 9, "date": 28, "utc": true}, {"year": 2020, "month": 4, "date": 7, "utc": true}], "range": [0, 745]}},
   "y": {"datum": 121.7, "type": "quantitative", "scale": {"domain": [17.73, 121.7], "nice": false, "zero": false}},
   "text": {"field": "t"}
  }
 },
 {
  "data": {"values": [{"t": "-9.16%"}]},
  "mark": {"type": "text", "align": "left", "baseline": "middle", "dx": 183, "dy": 12, "fontSize": 11, "color": "#d6403a"},
  "encoding": {
   "x": {"datum": {"year": 2013, "month": 9, "date": 28, "utc": true}, "type": "temporal", "scale": {"type": "utc", "domain": [{"year": 2013, "month": 9, "date": 28, "utc": true}, {"year": 2020, "month": 4, "date": 7, "utc": true}], "range": [0, 745]}},
   "y": {"datum": 121.7, "type": "quantitative", "scale": {"domain": [17.73, 121.7], "nice": false, "zero": false}},
   "text": {"field": "t"}
  }
 },
 {
  "data": {"values": [{"d": "2020-03-30", "p": 22.8}]},
  "mark": {"type": "point", "shape": "M-1,0L-0.62,-0.37L1,-0.37L1,0.37L-0.62,0.37Z", "size": 1444, "filled": true, "opacity": 1, "color": "#262626", "xOffset": 20},
  "encoding": {
   "x": {"field": "d", "type": "temporal", "scale": {"type": "utc", "domain": [{"year": 2013, "month": 9, "date": 28, "utc": true}, {"year": 2020, "month": 4, "date": 7, "utc": true}], "range": [0, 745]}},
   "y": {"field": "p", "type": "quantitative", "scale": {"domain": [17.73, 121.7], "nice": false, "zero": false}}
  }
 },
 {
  "data": {"values": [{"d": "2020-03-30", "p": 22.8}]},
  "mark": {"type": "text", "align": "left", "baseline": "middle", "dx": 8, "fontSize": 12, "color": "#ffffff"},
  "encoding": {
   "x": {"field": "d", "type": "temporal", "scale": {"type": "utc", "domain": [{"year": 2013, "month": 9, "date": 28, "utc": true}, {"year": 2020, "month": 4, "date": 7, "utc": true}], "range": [0, 745]}},
   "y": {"field": "p", "type": "quantitative", "scale": {"domain": [17.73, 121.7], "nice": false, "zero": false}},
   "text": {"field": "p", "type": "quantitative", "format": ".2f"}
  }
 }
]
},
{
"width": 780, "height": 20,
"view": {"fill": "#f2f2f2", "stroke": null},
"data": {"values": [
 {"y": "2013", "s": "2013-09-28", "e": "2014-01-01", "m": null},
 {"y": "2014", "s": "2014-01-01", "e": "2015-01-01", "m": "2014-07-02"},
 {"y": "2015", "s": "2015-01-01", "e": "2016-01-01", "m": "2015-07-02"},
 {"y": "2016", "s": "2016-01-01", "e": "2017-01-01", "m": "2016-07-02"},
 {"y": "2017", "s": "2017-01-01", "e": "2018-01-01", "m": "2017-07-02"},
 {"y": "2018", "s": "2018-01-01", "e": "2019-01-01", "m": "2018-07-02"},
 {"y": "2019", "s": "2019-01-01", "e": "2020-01-01", "m": "2019-07-02"},
 {"y": "2020", "s": "2020-01-01", "e": "2020-04-07", "m": "2020-02-10"}
]},
"layer": [
 {
  "mark": {"type": "rect"},
  "encoding": {
   "x": {"field": "s", "type": "temporal", "axis": null, "scale": {"type": "utc", "domain": [{"year": 2013, "month": 9, "date": 28, "utc": true}, {"year": 2020, "month": 4, "date": 7, "utc": true}], "range": [0, 745]}},
   "x2": {"field": "e"},
   "color": {"field": "y", "type": "nominal", "legend": null, "scale": {"domain": ["2013", "2014", "2015", "2016", "2017", "2018", "2019", "2020"], "range": ["#f2f2f2", "#dfdfdf", "#f2f2f2", "#dfdfdf", "#f2f2f2", "#dfdfdf", "#f2f2f2", "#dfdfdf"]}}
  }
 },
 {
  "transform": [{"filter": "datum.m != null"}],
  "mark": {"type": "text", "fontSize": 11, "color": "#3a3a3a", "baseline": "middle", "align": "center"},
  "encoding": {
   "x": {"field": "m", "type": "temporal", "axis": null, "scale": {"type": "utc", "domain": [{"year": 2013, "month": 9, "date": 28, "utc": true}, {"year": 2020, "month": 4, "date": 7, "utc": true}], "range": [0, 745]}},
   "text": {"field": "y"}
  }
 }
]
}
]
}
]
}
